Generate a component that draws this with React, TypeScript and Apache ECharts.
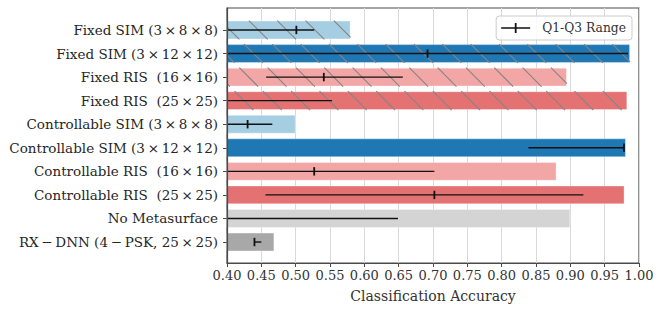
import React, { useEffect, useRef } from "react";
import * as echarts from "echarts";

const T = "\u2009"; // thin space around math operators
const CATEGORIES = [
  `Fixed SIM (3${T}×${T}8${T}×${T}8)`,
  `Fixed SIM (3${T}×${T}12${T}×${T}12)`,
  `Fixed RIS  (16${T}×${T}16)`,
  `Fixed RIS  (25${T}×${T}25)`,
  `Controllable SIM (3${T}×${T}8${T}×${T}8)`,
  `Controllable SIM (3${T}×${T}12${T}×${T}12)`,
  `Controllable RIS  (16${T}×${T}16)`,
  `Controllable RIS  (25${T}×${T}25)`,
  "No Metasurface",
  `RX${T}−${T}DNN (4${T}−${T}PSK, 25${T}×${T}25)`,
];
// bar value: classification accuracy
const ACCURACY = [0.58, 0.987, 0.895, 0.983, 0.5, 0.981, 0.88, 0.979, 0.9, 0.469];
// Q1 / median / Q3 (null = below the axis minimum)
const Q1: (number | null)[] = [null, null, 0.457, null, null, 0.839, null, 0.456, null, 0.44];
const MEDIAN: (number | null)[] = [0.501, 0.692, 0.541, null, 0.43, 0.978, 0.527, 0.702, null, 0.44];
const Q3 = [0.527, 0.984, 0.656, 0.553, 0.466, 0.978, 0.702, 0.919, 0.649, 0.45];
const HATCHED = [true, true, true, true, false, false, false, false, false, false];
const X_TICKS = { min: 0.4, max: 1.0, step: 0.05 };

const PALETTE = [
  "#a6cee3", "#1f78b4", "#f3a6a6", "#e47272", "#a6cee3",
  "#1f78b4", "#f3a6a6", "#e47272", "#d4d4d4", "#a8a8a8",
];

const FONT = "DejaVu Serif";

export default function App() {
  const ref = useRef<HTMLDivElement>(null);
  useEffect(() => {
    if (!ref.current) return;
    const chart = echarts.init(ref.current, undefined, { renderer: "svg" });
    const left = 227;
    const width = 412;

    const option: any = {
      animation: false,
      textStyle: { fontFamily: FONT },
      grid: [
        { left, width, top: 8, height: 255, show: true, borderColor: "#4a4a4a", borderWidth: 1.2, backgroundColor: "transparent" },
        { left, width, top: 18.2, height: 235.6 },
      ],
      legend: {
        right: 28,
        top: 16,
        padding: [6, 6, 6, 5],
        itemWidth: 29,
        itemHeight: 10,
        borderColor: "#cccccc",
        borderWidth: 1,
        borderRadius: 3,
        backgroundColor: "rgba(255,255,255,0.85)",
        textStyle: { fontFamily: FONT, fontSize: 12.3, color: "#333", padding: [0, 0, 0, 7] },
        data: [{ name: "Q1-Q3 Range", icon: "path://M0,4.3H29V5.7H0Z M13.6,0H15.4V10H13.6Z" }],
      },
      xAxis: [
        {
          type: "value",
          gridIndex: 0,
          min: X_TICKS.min,
          max: X_TICKS.max,
          interval: X_TICKS.step,
          axisLine: { show: true, lineStyle: { color: "#4a4a4a", width: 1.2 } },
          axisTick: { show: true, length: 4, lineStyle: { color: "#4a4a4a" } },
          axisLabel: { fontFamily: FONT, fontSize: 13, color: "#333", margin: 6, formatter: (v: number) => v.toFixed(2) },
          splitLine: { show: true, lineStyle: { color: "#d9d9d9", width: 1 } },
          name: "Classification Accuracy",
          nameLocation: "middle",
          nameGap: 26,
          nameTextStyle: { fontFamily: FONT, fontSize: 14, color: "#333" },
        },
        { type: "value", gridIndex: 1, min: X_TICKS.min, max: X_TICKS.max, show: false },
      ],
      yAxis: [
        {
          type: "value", gridIndex: 0, min: 0, max: 1, z: 10,
          axisLine: { show: true, lineStyle: { color: "#4a4a4a", width: 1.2 } },
          axisTick: { show: false }, axisLabel: { show: false }, splitLine: { show: false },
        },
        {
          type: "category", gridIndex: 1, inverse: true, data: CATEGORIES,
          axisLine: { show: false },
          axisTick: { show: true, alignWithLabel: true, length: 4, lineStyle: { color: "#4a4a4a" } },
          axisLabel: { fontFamily: FONT, fontSize: 13.5, color: "#262626", margin: 9 },
        },
      ],
      series: [
        {
          type: "bar", xAxisIndex: 1, yAxisIndex: 1, barWidth: "80%", z: 2,
          data: ACCURACY.map((v, i) => ({
            value: v,
            itemStyle: { color: PALETTE[i], borderColor: "rgba(255,255,255,0.35)", borderWidth: 1 },
          })),
        },
        {
          type: "custom", name: "hatch", xAxisIndex: 1, yAxisIndex: 1, z: 4,
          encode: { x: 0, y: 1 },
          data: ACCURACY.map((v, i) => [v, i]),
          renderItem: (params: any, api: any) => {
            const i = api.value(1);
            if (!HATCHED[i]) return null;
            const end = api.coord([api.value(0), i]);
            const start = api.coord([X_TICKS.min, i]);
            const band = api.size([0, 1])[1];
            const top = end[1] - band * 0.4;
            const bottom = end[1] + band * 0.4;
            const xl = start[0];
            const xr = end[0];
            const spacing = 28.33;
            const phase = 1.67;
            const children: any[] = [];
            const cMin = xl - bottom;
            const cMax = xr - top;
            let k = Math.floor((cMin - phase) / spacing);
            for (; phase + k * spacing <= cMax; k++) {
              const c = phase + k * spacing; // line: x = c + y
              let x1 = c + top, y1 = top, x2 = c + bottom, y2 = bottom;
              if (x1 < xl) { y1 = xl - c; x1 = xl; }
              if (x2 > xr) { y2 = xr - c; x2 = xr; }
              if (y2 - y1 < 0.5) continue;
              children.push({ type: "line", z2: 1, shape: { x1, y1, x2, y2 }, style: { stroke: "#858585", lineWidth: 1.1 } });
            }
            return { type: "group", children };
          },
        },
        {
          type: "custom", name: "Q1-Q3 Range", xAxisIndex: 1, yAxisIndex: 1, z: 6,
          encode: { x: 0, y: 1 },
          itemStyle: { color: "#111" },
          data: Q3.map((v, i) => [v, i]),
          renderItem: (params: any, api: any) => {
            const i = api.value(1);
            const cs = params.coordSys;
            const p3 = api.coord([Q3[i], i]);
            const q1 = Q1[i];
            const x1 = q1 == null ? cs.x : api.coord([q1, i])[0];
            const cy = p3[1];
            const children: any[] = [
              { type: "line", shape: { x1, y1: cy, x2: p3[0], y2: cy }, style: { stroke: "#111", lineWidth: 1.4 } },
            ];
            const m = MEDIAN[i];
            if (m != null && m >= X_TICKS.min) {
              const xm = api.coord([m, i])[0];
              children.push({ type: "line", shape: { x1: xm, y1: cy - 4.2, x2: xm, y2: cy + 4.2 }, style: { stroke: "#111", lineWidth: 1.8 } });
            }
            return { type: "group", children };
          },
        },
      ],
    };
    chart.setOption(option);
    return () => chart.dispose();
  }, []);
  return (
    <div ref={ref} style={{ position: "fixed", left: 0, top: 0, width: 660, height: 313, background: "#fff" }} />
  );
}
